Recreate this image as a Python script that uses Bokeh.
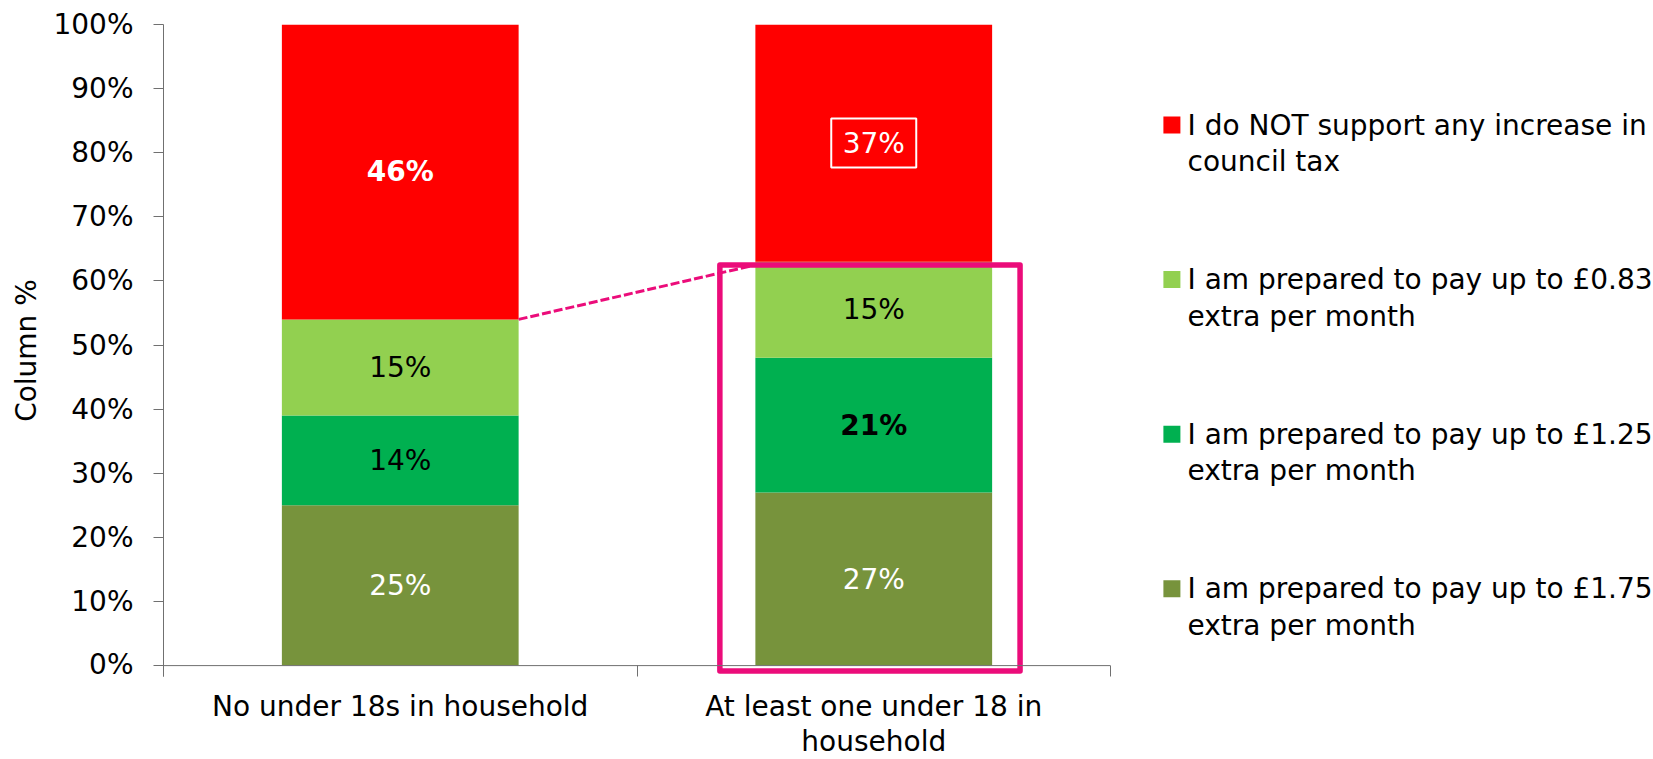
import numpy as np
from bokeh.plotting import figure
from bokeh.models import ColumnDataSource, Range1d, FixedTicker, PrintfTickFormatter, Span
from bokeh.layouts import row, column
from bokeh.embed import file_html
from bokeh.resources import INLINE
from bokeh.core.properties import value

# ---------------- data ----------------
categories = ["No under 18s in household", "At least one under 18 in\nhousehold"]
series_names = [
    "I am prepared to pay up to £1.75\nextra per month",
    "I am prepared to pay up to £1.25\nextra per month",
    "I am prepared to pay up to £0.83\nextra per month",
    "I do NOT support any increase in\ncouncil tax",
]
pay_175 = [25, 27]
pay_125 = [14, 21]
pay_083 = [15, 15]
no_increase = [46, 37]
y_ticks = [0, 10, 20, 30, 40, 50, 60, 70, 80, 90, 100]
y_title = "Column %"

# ---------------- styles ----------------
FONT = "DejaVu Sans"
FS = "28px"
series_colors = ["#77933C", "#00B050", "#92D050", "#FF0000"]
label_colors = ["#FFFFFF", "#000000", "#000000", "#FFFFFF"]
bold_labels = {(0, 3), (1, 1)}   # (category, series)
boxed_label = (1, 3)
PINK = "#EB0C7A"
AXIS = "#707070"
BAR_W = 0.5
# highlight box around the second column (data units)
box_left, box_right, box_bottom, box_top = 1.175, 1.809, -0.86, 62.5

series = [pay_175, pay_125, pay_083, no_increase]
n_cat = len(categories)
centers = np.arange(n_cat) + 0.5
vals = np.array(series, dtype=float)          # shape (series, cat)
tops = np.cumsum(vals, axis=0)
bottoms = tops - vals

TOTAL_W, TOTAL_H = 1653, 759
CH_W, CH_H = 1118, 680
x_range = Range1d(0, n_cat)

p = figure(width=CH_W, height=CH_H, x_range=x_range, y_range=Range1d(-1.7, 100),
           output_backend="svg", toolbar_location=None,
           min_border_left=163, min_border_right=8, min_border_top=24, min_border_bottom=4)
p.outline_line_color = None
p.grid.visible = False

for j in range(len(series)):
    p.vbar(x=centers, width=BAR_W, bottom=bottoms[j], top=tops[j],
           fill_color=series_colors[j], line_color=None)

# data labels
lx, ly, lt, lc, ls = [], [], [], [], []
for i in range(n_cat):
    for j in range(len(series)):
        lx.append(centers[i])
        ly.append((bottoms[j][i] + tops[j][i]) / 2)
        lt.append(f"{int(vals[j][i])}%")
        lc.append(label_colors[j])
        ls.append("bold" if (i, j) in bold_labels else "normal")
src = ColumnDataSource(dict(x=lx, y=ly, text=lt, color=lc, style=ls))
p.text(x="x", y="y", text="text", source=src, text_color="color", text_font_style="style",
       text_font=value(FONT), text_font_size=FS, text_align="center", text_baseline="middle")

bi, bj = boxed_label
p.rect(x=[centers[bi]], y=[(bottoms[bj][bi] + tops[bj][bi]) / 2], width=85, height=49,
       width_units="screen", height_units="screen", fill_color=None,
       line_color="white", line_width=2)

# baseline at 0
p.add_layout(Span(location=0, dimension="width", line_color=AXIS, line_width=1))

# dashed connector and highlight box
p.line(x=[centers[0] + BAR_W / 2, centers[1] - BAR_W / 2], y=[tops[2][0], box_top],
       line_color=PINK, line_width=3, line_dash="9 3")
p.quad(left=[box_left], right=[box_right], bottom=[box_bottom], top=[box_top],
       fill_color=None, line_color=PINK, line_width=5.5, line_join="round")

# y axis
yax = p.yaxis[0]
yax.ticker = FixedTicker(ticks=y_ticks)
yax.formatter = PrintfTickFormatter(format="%d%%")
yax.axis_line_color = AXIS
yax.major_tick_line_color = AXIS
yax.major_tick_out = 10
yax.major_tick_in = 0
yax.minor_tick_line_color = None
yax.major_label_text_font = FONT
yax.major_label_text_font_size = FS
yax.major_label_text_color = "black"
yax.major_label_standoff = 20
yax.axis_label = y_title
yax.axis_label_text_font = FONT
yax.axis_label_text_font_size = FS
yax.axis_label_text_font_style = "normal"
yax.axis_label_text_color = "black"
yax.axis_label_standoff = 7

# x axis: only the category boundary ticks; labels are drawn in the strip below
xax = p.xaxis[0]
xax.ticker = FixedTicker(ticks=list(centers), minor_ticks=list(range(n_cat + 1)))
xax.major_label_overrides = {float(c): "" for c in centers}
xax.major_label_text_font_size = "1px"
xax.major_label_standoff = 0
xax.axis_line_color = None
xax.major_tick_line_color = None
xax.major_tick_in = 0
xax.major_tick_out = 0
xax.minor_tick_line_color = AXIS
xax.minor_tick_in = 11
xax.minor_tick_out = 0

# ---------------- category label strip ----------------
XL_H = TOTAL_H - CH_H
q = figure(width=CH_W, height=XL_H, x_range=x_range, y_range=Range1d(XL_H, 0),
           output_backend="svg", toolbar_location=None, x_axis_type=None, y_axis_type=None,
           min_border_left=163, min_border_right=8, min_border_top=0, min_border_bottom=0)
q.outline_line_color = None
q.grid.visible = False
first_line_y, line_gap_x = 26, 35
cx, cy, ct = [], [], []
for i, cat in enumerate(categories):
    for m, line in enumerate(cat.split("\n")):
        cx.append(centers[i])
        cy.append(first_line_y + m * line_gap_x)
        ct.append(line)
q.text(x=cx, y=cy, text=ct, text_font=value(FONT), text_font_size=FS, text_color="black",
       text_align="center", text_baseline="middle")

# ---------------- legend panel ----------------
LW, LH = TOTAL_W - CH_W, TOTAL_H
lg = figure(width=LW, height=LH, x_range=Range1d(0, LW), y_range=Range1d(LH, 0),
            output_backend="svg", toolbar_location=None, x_axis_type=None, y_axis_type=None,
            min_border=0)
lg.outline_line_color = None
lg.grid.visible = False

order = list(range(len(series)))[::-1]
first_y, step, line_gap = 124.5, 154.6, 36.7
sq_x, txt_x = 53.4, 69
sq_y, sq_c, tx, ty, tt = [], [], [], [], []
for k, j in enumerate(order):
    yk = first_y + k * step
    sq_y.append(yk)
    sq_c.append(series_colors[j])
    for m, line in enumerate(series_names[j].split("\n")):
        tx.append(txt_x)
        ty.append(yk + m * line_gap)
        tt.append(line)
lg.rect(x=[sq_x] * len(sq_y), y=sq_y, width=17, height=17, fill_color=sq_c, line_color=None)
lg.text(x=tx, y=ty, text=tt, text_font=value(FONT), text_font_size=FS, text_color="black",
        text_align="left", text_baseline="middle")

layout = row(column(p, q), lg)
open("out.html", "w").write(file_html(layout, INLINE))
